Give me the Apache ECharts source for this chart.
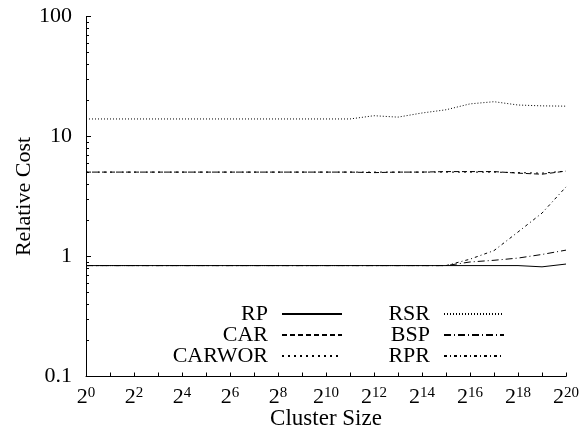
<!DOCTYPE html>
<html>
<head>
<meta charset="utf-8">
<script src="https://cdn.jsdelivr.net/npm/echarts@6/dist/echarts.min.js"></script>
<style>
  html, body { margin: 0; padding: 0; background: #fff; }
  #main { width: 585px; height: 430px; }
</style>
</head>
<body>
<div id="main"></div>
<script>
// cluster size exponents (2^k)
var exps = [0, 1, 2, 3, 4, 5, 6, 7, 8, 9, 10, 11, 12, 13, 14, 15, 16, 17, 18, 19, 20];
var rp     = [0.84, 0.84, 0.84, 0.84, 0.84, 0.84, 0.84, 0.84, 0.84, 0.84, 0.84, 0.84, 0.84, 0.84, 0.84, 0.84, 0.84, 0.84, 0.84, 0.82, 0.865];
var car    = [5.05, 5.05, 5.05, 5.05, 5.05, 5.05, 5.05, 5.05, 5.05, 5.05, 5.05, 5.05, 5.0, 5.05, 5.05, 5.1, 5.1, 5.1, 4.95, 4.85, 5.15];
var carwor = [5.05, 5.05, 5.05, 5.05, 5.05, 5.05, 5.05, 5.05, 5.05, 5.05, 5.05, 5.05, 5.05, 5.05, 5.05, 5.05, 5.05, 5.05, 5.0, 4.95, 5.15];
var rsr    = [14, 14, 14, 14, 14, 14, 14, 14, 14, 14, 14, 14, 14.9, 14.5, 15.7, 16.7, 18.7, 19.5, 18.3, 18.0, 17.9];
var bsp    = [0.84, 0.84, 0.84, 0.84, 0.84, 0.84, 0.84, 0.84, 0.84, 0.84, 0.84, 0.84, 0.84, 0.84, 0.84, 0.84, 0.9, 0.93, 0.97, 1.04, 1.13];
var rpr    = [0.84, 0.84, 0.84, 0.84, 0.84, 0.84, 0.84, 0.84, 0.84, 0.84, 0.84, 0.84, 0.84, 0.84, 0.84, 0.84, 0.95, 1.12, 1.6, 2.3, 3.8];
var yMajor = [0.1, 1, 10, 100];
var yMinor = [0.2, 0.3, 0.4, 0.5, 0.6, 0.7, 0.8, 0.9, 2, 3, 4, 5, 6, 7, 8, 9, 20, 30, 40, 50, 60, 70, 80, 90];

var FONT = 'Liberation Serif';
var FS = 22;
var myChart = echarts.init(document.getElementById('main'), null, { renderer: 'canvas' });

function pts(vals) {
    return exps.map(function (e, i) { return [e, vals[i]]; });
}
function line(name, vals, dash) {
    return {
        name: name, type: 'line', data: pts(vals),
        symbol: 'none', silent: true, animation: false,
        lineStyle: { color: '#000', width: 1, type: dash },
        itemStyle: { color: '#000' }
    };
}
// gnuplot style key: text right aligned, sample on the right
function key(name, right, top) {
    return {
        data: [name], right: right, top: top, align: 'right', padding: 0,
        itemWidth: 60, itemHeight: 14, itemGap: 0, selectedMode: false,
        itemStyle: { color: 'rgba(0,0,0,0)', borderWidth: 0, opacity: 0 },
        textStyle: { fontFamily: FONT, fontSize: FS, color: '#000', padding: [0, 9, 0, 0] }
    };
}

var option = {
    backgroundColor: '#fff',
    animation: false,
    grid: { left: 86, right: 19, top: 16.5, bottom: 53.5, containLabel: false, outerBoundsMode: 'none' },
    legend: [
        key('RP', 242, 303), key('CAR', 242, 324), key('CARWOR', 242, 345),
        key('RSR', 80, 303), key('BSP', 80, 324), key('RPR', 80, 345)
    ],
    xAxis: {
        type: 'value', min: 0, max: 20, interval: 1,
        name: 'Cluster Size', nameLocation: 'middle', nameGap: 31, nameMoveOverlap: false,
        nameTextStyle: { fontFamily: FONT, fontSize: 23, color: '#000' },
        axisLine: { lineStyle: { color: '#000', width: 1 } },
        axisTick: { inside: true, length: 4, lineStyle: { color: '#000' } },
        splitLine: { show: false },
        axisLabel: {
            margin: 9, color: '#000', fontFamily: FONT,
            formatter: function (v) {
                return v % 2 === 0 ? '{b|2}{s|' + v + '}' : '';
            },
            rich: {
                b: { fontFamily: FONT, fontSize: FS, color: '#000', lineHeight: 24 },
                s: { fontFamily: FONT, fontSize: 15, color: '#000', verticalAlign: 'top', lineHeight: 16 }
            }
        }
    },
    yAxis: [{
        type: 'log', logBase: 10, min: 0.1, max: 100,
        name: 'Relative Cost', nameLocation: 'middle', nameGap: 51, nameMoveOverlap: false,
        nameTextStyle: { fontFamily: FONT, fontSize: FS, color: '#000' },
        axisLine: { show: true, lineStyle: { color: '#000', width: 1 } },
        axisTick: { inside: true, length: 5, customValues: yMajor, lineStyle: { color: '#000' } },
        splitLine: { show: false },
        axisLabel: {
            margin: 14, color: '#000', fontFamily: FONT, fontSize: FS,
            customValues: yMajor,
            formatter: function (v) { return String(v); }
        }
    }, {
        type: 'log', logBase: 10, min: 0.1, max: 100, position: 'left',
        axisLine: { show: false },
        axisTick: { inside: true, length: 3, customValues: yMinor, lineStyle: { color: '#000' } },
        axisLabel: { show: false },
        splitLine: { show: false }
    }],
    series: [
        line('RP', rp, 'solid'),
        line('CAR', car, [5, 3]),
        line('CARWOR', carwor, [2, 4]),
        line('RSR', rsr, [1, 2]),
        line('BSP', bsp, [7, 3, 1, 3]),
        line('RPR', rpr, [3, 3, 1, 3])
    ]
};
myChart.setOption(option);
</script>
</body>
</html>
